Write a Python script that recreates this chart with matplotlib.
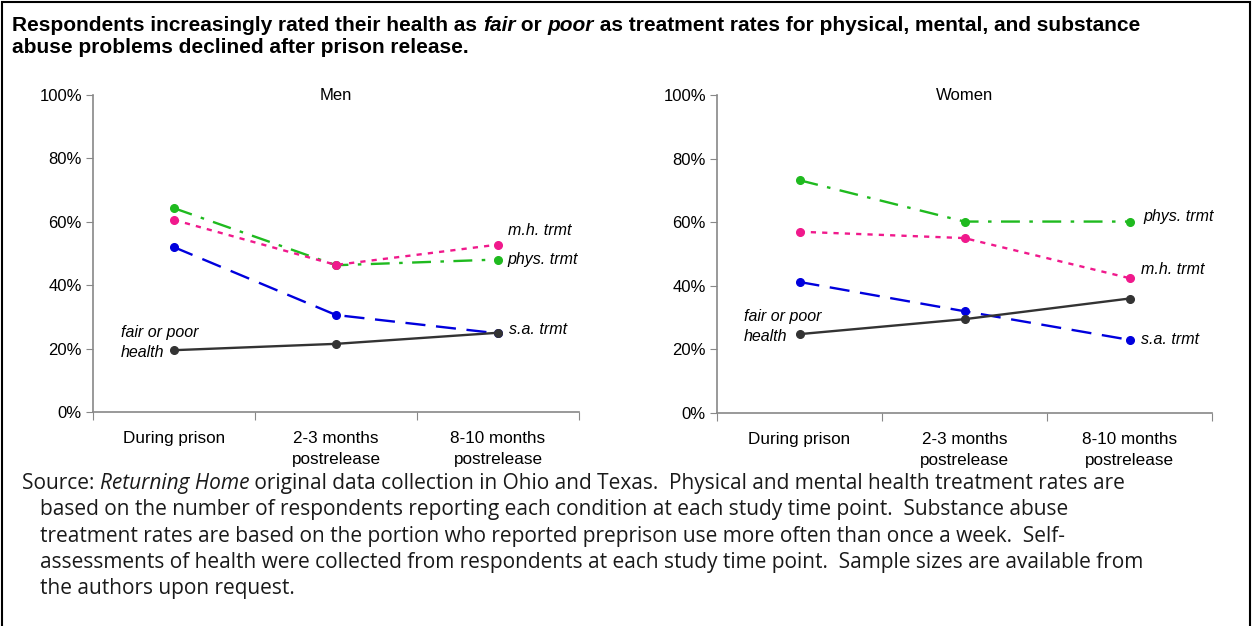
import matplotlib
matplotlib.use("Agg")
import matplotlib.pyplot as plt
from matplotlib.patches import Rectangle

plt.rcParams['font.family'] = ['Liberation Sans', 'DejaVu Sans']

# data
periods = ["During prison", "2-3 months\npostrelease", "8-10 months\npostrelease"]
y_ticks = [0, 20, 40, 60, 80, 100]

men_phys = [64.3, 46.3, 48.1]
men_mh = [60.6, 46.4, 52.8]
men_sa = [52.0, 30.6, 24.8]
men_health = [19.5, 21.5, 25.0]

women_phys = [73.2, 60.2, 60.2]
women_mh = [57.0, 55.0, 42.4]
women_sa = [41.2, 32.0, 23.0]
women_health = [24.8, 29.5, 36.0]

title_1 = [("Respondents increasingly rated their health as ", 'normal'),
           ("fair", 'italic'), (" or ", 'normal'), ("poor", 'italic'),
           (" as treatment rates for physical, mental, and substance", 'normal')]
title_2 = [("abuse problems declined after prison release.", 'normal')]
source_1 = [("Source: ", 'normal'), ("Returning Home", 'italic'),
            (" original data collection in Ohio and Texas.  Physical and mental health treatment rates are", 'normal')]
source_rest = ["based on the number of respondents reporting each condition at each study time point.  Substance abuse",
               "treatment rates are based on the portion who reported preprison use more often than once a week.  Self-",
               "assessments of health were collected from respondents at each study time point.  Sample sizes are available from",
               "the authors upon request."]

W, H = 1252, 626
fig = plt.figure(figsize=(W / 100, H / 100), dpi=100)

# outer frame
fig.patches.append(Rectangle((2 / W, -0.05), (W - 4) / W, 1.05 - 2 / H,
                             transform=fig.transFigure, fill=False,
                             edgecolor='black', linewidth=1.5))

renderer = fig.canvas.get_renderer()


def text_width(s, **kw):
    # width in pixels, keeping leading/trailing spaces
    t1 = fig.text(0, 0, "a" + s + "a", **kw)
    t2 = fig.text(0, 0, "aa", **kw)
    w = t1.get_window_extent(renderer).width - t2.get_window_extent(renderer).width
    t1.remove()
    t2.remove()
    return w


def parts_width(parts, **kw):
    return sum(text_width(s, fontstyle=st, **kw) for s, st in parts)


def fit_size(parts, target, **kw):
    return 10 * target / parts_width(parts, fontsize=10, **kw)


def rich_line(x, y, parts, **kw):
    for s, style in parts:
        fig.text(x / W, 1 - y / H, s, fontstyle=style, va='baseline', **kw)
        x += text_width(s, fontstyle=style, **kw)


title_kw = dict(fontweight='bold', family=['Liberation Sans', 'DejaVu Sans'])
title_kw['fontsize'] = min(fit_size(title_1, 1165, **title_kw), 15)
rich_line(12, 31, title_1, **title_kw)
rich_line(12, 53, title_2, **title_kw)

src_kw = dict(color='#1a1a1a', family=['Open Sans', 'DejaVu Sans'])
src_kw['fontsize'] = 0.95 * fit_size(source_1, 1166, **src_kw)
rich_line(22, 489, source_1, **src_kw)
for i, line in enumerate(source_rest):
    rich_line(40, 489 + 26.3 * (i + 1), [(line, 'normal')], **src_kw)

green = '#1fba1f'
pink = '#f0198c'
blue = '#0000dd'
dark = '#333333'
gray = '#888888'


def panel(rect, title, phys, mh, sa, health, offsets):
    ax = fig.add_axes(rect)
    x = range(len(periods))
    lw = 1.7
    l1, = ax.plot(x, phys, color=green, lw=lw, marker='o', ms=5.5)
    l1.set_dashes([8, 4, 1.5, 4])
    l2, = ax.plot(x, mh, color=pink, lw=lw, marker='o', ms=5.5)
    l2.set_dashes([2.2, 2.6])
    l3, = ax.plot(x, sa, color=blue, lw=lw, marker='o', ms=5.5)
    l3.set_dashes([8.5, 4.5])
    ax.plot(x, health, color=dark, lw=lw, marker='o', ms=5.5)

    ax.set_xlim(-0.5, 2.5)
    ax.set_ylim(0, 100)
    ax.set_yticks(y_ticks)
    ax.set_yticklabels([f"{v}%" for v in y_ticks], fontsize=12)
    ax.set_xticks([-0.5, 0.5, 1.5, 2.5])
    ax.set_xticklabels([])
    ax.set_xticks(list(x), minor=True)
    ax.set_xticklabels(periods, minor=True, fontsize=12.3, linespacing=1.45)
    ax.tick_params(axis='x', which='minor', length=0, pad=14)
    ax.tick_params(axis='x', which='major', length=6, color=gray, direction='out')
    ax.tick_params(axis='y', length=5, color=gray, direction='out', pad=3)
    for s in ['top', 'right']:
        ax.spines[s].set_visible(False)
    for s in ['left', 'bottom']:
        ax.spines[s].set_color(gray)
        ax.spines[s].set_linewidth(1.2)
    ax.text(0.5, 1.0, title, transform=ax.transAxes, ha='center', va='center', fontsize=12)

    ann_kw = dict(textcoords='offset points', fontsize=11.5, fontstyle='italic', va='center')
    ax.annotate("phys. trmt", xy=(2, phys[2]), xytext=offsets['phys'], **ann_kw)
    ax.annotate("m.h. trmt", xy=(2, mh[2]), xytext=offsets['mh'], **ann_kw)
    ax.annotate("s.a. trmt", xy=(2, sa[2]), xytext=offsets['sa'], **ann_kw)
    ax.annotate("fair or poor\nhealth", xy=(0, health[0]), xytext=offsets['health'],
                ha='left', linespacing=1.4, textcoords='offset points',
                fontsize=11.5, fontstyle='italic', va='bottom')
    return ax


panel([93 / W, 1 - 412 / H, 486 / W, 317 / H], "Men",
      men_phys, men_mh, men_sa, men_health,
      {'phys': (7, 0), 'mh': (7, 10), 'sa': (8, 3), 'health': (-38, -7)})
panel([717 / W, 1 - 413 / H, 495 / W, 318 / H], "Women",
      women_phys, women_mh, women_sa, women_health,
      {'phys': (10, 4), 'mh': (8, 6), 'sa': (8, 0), 'health': (-40, -7)})

fig.savefig("out.png", dpi=100)
